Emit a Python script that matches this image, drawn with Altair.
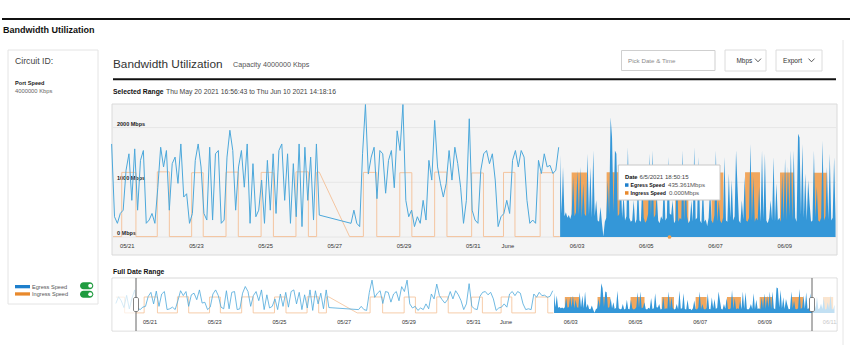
import altair as alt
import pandas as pd

FONT = "Liberation Sans"

# ---------------------------------------------------------------- data
SEL_START = "2021-05-20T16:56:43"
SEL_END = "2021-06-10T14:18:16"

# Egress speed (Mbps), part 1: two-hourly readings from 2021-05-20 02:00 (None = no data)
EGRESS_A_START = "2021-05-20T02:00:00"
egress_a = [
    700, 1200, 900, 400, 1300, 300, 1100, 1700, 370, 250, 430,
    490, 1220, 1520, 670, 1610, 490, 1400, 1580, 250, 310, 430, 250,
    900, 1640, 1280, 1580, 490, 1340, 1460, 980, 1700, 730, 790, 250,
    430, 1400, 1700, 1280, 430, 310, 1640, 310, 1520, 1580, 250, 310,
    1460, 1950, 1580, 490, 1280, 1580, 910, 1700, 250, 1340, 370, 490,
    1040, 250, 1400, 490, 1520, 430, 1580, 1700, 670, 1520, 250, 1340,
    370, 1700, 190, 1640, 670, 1460, 310, 1700, 400, None, None, None,
    None, None, None, None, None, None, None, 250, 490, 250, 190, 1520,
    2420, 1150, 1460, 1640, 700, 1580, 1520, 800, 1400, 1580, 900, 1940,
    1580, 2420, 670, 370, 490, 190, 370, 250, 670, 310, 1400, 1040,
    2130, 1280, 980, 730, 980, 1580, 1040, 1640, 1340, 910, 250, 670,
    2160, 490, 310, 250, 1220, 1520, 1580, 1340, 1520, 1040, 190, 370,
    430, 670, 430, 1400, 1580, 1280, 1580, 1460, 670, 250, 310, 250,
    1400, 1160, 1520, 1280, 1310, 1160, 1220, 1640,
]

# Egress speed (Mbps), part 2: hourly readings from 2021-06-02 15:00
EGRESS_B_START = "2021-06-02T15:00:00"
egress_b = [
    1500, 420, 1280, 380, 450, 350, 400, 330, 420, 1100,
    380, 450, 1220, 400, 1280, 350, 980, 420, 380, 1520,
    400, 1280, 350, 1580, 380, 670, 300, 280, 550, 250,
    10, 280, 350, 1040, 400, 2190, 1820, 450, 1580, 1520,
    380, 420, 1100, 350, 790, 300, 380, 1640, 350, 280,
    300, 670, 250, 320, 980, 300, 280, 980, 350, 260,
    300, 420, 1520, 380, 1580, 350, 400, 790, 300, 250,
    380, 320, 1100, 300, 350, 1460, 430, 400, 670, 250,
    300, 1220, 280, 350, 320, 1580, 300, 1160, 380, 250,
    300, 670, 280, 1640, 320, 350, 1460, 300, 250, 980,
    280, 320, 200, 350, 920, 300, 250, 400, 1580, 280,
    670, 300, 250, 350, 1460, 300, 280, 1160, 350, 1040,
    300, 380, 1580, 920, 300, 250, 670, 320, 1100, 300,
    280, 350, 1700, 300, 1100, 280, 350, 300, 920, 280,
    1580, 320, 1520, 300, 250, 350, 670, 300, 1460, 280,
    980, 300, 350, 280, 1160, 320, 1430, 300, 1280, 380,
    1580, 300, 1580, 350, 280, 1885, 1820, 400, 1700, 350,
    1160, 300, 1040, 610, 280, 300, 1580, 350, 920, 300,
    280, 350, 1760, 300, 380, 1280, 320, 1520, 300, 350,
    1460, 300, 250, 900, 300, 1200, 280, 350, 700, 300,
    1100, 250, 300, 800, 280, 1300, 300, 250, 600,
]

# Ingress speed: daily high periods (start, end, level in Mbps); low level otherwise
ingress_on = [
    "2021-05-20T02:00", "2021-05-20T23:00", "2021-05-21T23:40", "2021-05-22T23:30",
    "2021-05-23T23:20", "2021-05-24T23:40", "2021-05-25T23:50", "2021-05-26T14:10",
    "2021-05-27T22:35", "2021-05-28T23:50", "2021-05-30T00:00", "2021-05-31T01:40",
    "2021-05-31T23:45", "2021-06-02T01:10", "2021-06-02T23:00", "2021-06-03T23:15",
    "2021-06-04T23:45", "2021-06-05T22:50", "2021-06-07T00:00", "2021-06-07T23:15",
    "2021-06-08T23:30", "2021-06-09T22:50", "2021-06-10T22:30",
]
ingress_off = [
    "2021-05-20T08:30", "2021-05-21T08:50", "2021-05-22T08:00", "2021-05-23T07:30",
    "2021-05-24T07:50", "2021-05-25T08:10", "2021-05-26T08:25", "2021-05-26T16:00",
    "2021-05-28T07:50", "2021-05-29T08:10", "2021-05-30T08:30", "2021-05-31T09:50",
    "2021-06-01T07:40", "2021-06-02T10:20", "2021-06-03T09:35", "2021-06-04T08:40",
    "2021-06-05T10:05", "2021-06-06T07:55", "2021-06-07T08:10", "2021-06-08T09:35",
    "2021-06-09T08:50", "2021-06-10T07:55", "2021-06-11T06:00",
]
ingress_level = [1170, 1180, 1190, 1175, 1185, 1180, 1190, 1185, 1180, 1175, 1185, 1170,
                 1180, 1175, 1180, 1185, 1180, 1175, 1180, 1185, 1180, 1175, 1170]
INGRESS_LOW = 8
INGRESS_GAP = ("2021-05-26T16:00", "2021-05-27T13:00")
INGRESS_END = "2021-06-11T07:00"
PART_SPLIT = "2021-06-02T14:30"

HOVER_TIME = "2021-06-05T18:50:15"
HOVER_INGRESS = 0

main_tick_dates = ["2021-05-21", "2021-05-23", "2021-05-25", "2021-05-27", "2021-05-29",
                   "2021-05-31", "2021-06-01", "2021-06-03", "2021-06-05", "2021-06-07",
                   "2021-06-09"]
main_tick_labels = ["05/21", "05/23", "05/25", "05/27", "05/29", "05/31", "June",
                    "06/03", "06/05", "06/07", "06/09"]
over_tick_dates = main_tick_dates + ["2021-06-11"]
over_tick_labels = main_tick_labels + ["06/11"]
y_ticks = [0, 1000, 2000]
y_tick_labels = ["0 Mbps", "1000 Mbps", "2000 Mbps"]

BLUE_LINE = "#4ca8db"
BLUE_FILL = "#3497d8"
ORANGE_LINE = "#f4c096"
ORANGE_FILL = "#f0a050"

# ---------------------------------------------------------------- frames
ts = pd.Timestamp
ea = pd.DataFrame({"t": pd.date_range(EGRESS_A_START, periods=len(egress_a), freq="2h"),
                   "v": egress_a}).dropna()
eb = pd.DataFrame({"t": pd.date_range(EGRESS_B_START, periods=len(egress_b), freq="1h"),
                   "v": egress_b})

one_min = pd.Timedelta(minutes=1)
pts = []
for i, (on, off, lvl) in enumerate(zip(ingress_on, ingress_off, ingress_level)):
    if i > 0:
        pts.append((ts(on) - one_min, INGRESS_LOW))
    pts.append((ts(on), lvl))
    pts.append((ts(off), lvl))
    if off == INGRESS_GAP[0]:
        pts.append((ts(INGRESS_GAP[1]), INGRESS_LOW))
    else:
        pts.append((ts(off) + one_min, INGRESS_LOW))
pts.append((ts(INGRESS_END), INGRESS_LOW))
ing = pd.DataFrame(pts, columns=["t", "v"])
split = ts(PART_SPLIT)
ia = pd.concat([ing[ing.t <= split], pd.DataFrame({"t": [split], "v": [INGRESS_LOW]})])
ib = pd.concat([pd.DataFrame({"t": [split], "v": [INGRESS_LOW]}), ing[ing.t > split]])

s0, s1 = ts(SEL_START), ts(SEL_END)
lo = s0 - pd.Timedelta(hours=1)
ea_m = ea[(ea.t >= lo) & (ea.t <= s1)]
eb_m = eb[(eb.t >= lo) & (eb.t <= s1)]
ia_m = pd.concat([pd.DataFrame({"t": [s0], "v": [INGRESS_LOW]}), ia[(ia.t > s0) & (ia.t <= s1)]])
ib_m = ib[(ib.t >= lo) & (ib.t <= s1)]

main_ticks = pd.DataFrame({"t": pd.to_datetime(main_tick_dates), "lbl": main_tick_labels})
over_ticks = pd.DataFrame({"t": pd.to_datetime(over_tick_dates), "lbl": over_tick_labels})
yt = pd.DataFrame({"v": y_ticks, "lbl": y_tick_labels})
hover = pd.DataFrame({"t": [ts(HOVER_TIME)], "v": [HOVER_INGRESS]})
one = pd.DataFrame({"k": [0]})


def dt(s):
    d = ts(s)
    return alt.DateTime(year=d.year, month=d.month, date=d.day,
                        hours=d.hour, minutes=d.minute, seconds=d.second)


XM = alt.Scale(domain=[dt(SEL_START), dt(SEL_END)], range=[113, 836], nice=False)
YM = alt.Scale(domain=[0, 2430], range=[237, 104], nice=False, zero=False)
XO = alt.Scale(domain=[dt(SEL_START), dt(SEL_END)], range=[136, 812], nice=False)
YO = alt.Scale(domain=[0, 2430], range=[313, 280], nice=False, zero=False)

layers = []


def box(x1, y1, x2, y2, fill="white", stroke=None, sw=1.0, r=0, op=1.0):
    kw = dict(fill=fill, opacity=op)
    if stroke:
        kw.update(stroke=stroke, strokeWidth=sw)
    if r:
        kw["cornerRadius"] = r
    layers.append(alt.Chart(one).mark_rect(**kw).encode(
        x=alt.value(x1), x2=alt.value(x2), y=alt.value(y1), y2=alt.value(y2)))


def txt(x, y, s, size=7.0, color="#222", weight="normal", align="left"):
    layers.append(alt.Chart(one).mark_text(
        text=s, fontSize=size, color=color, fontWeight=weight, align=align,
        baseline="middle", font=FONT).encode(x=alt.value(x), y=alt.value(y)))


def seg(x1, y1, x2, y2, color="#111", sw=1.0):
    layers.append(alt.Chart(one).mark_rule(color=color, strokeWidth=sw).encode(
        x=alt.value(x1), x2=alt.value(x2), y=alt.value(y1), y2=alt.value(y2)))


def enc(xs, ys):
    return dict(x=alt.X("t:T", scale=xs, axis=None), y=alt.Y("v:Q", scale=ys, axis=None))


# ---------------------------------------------------------------- page header
seg(2, 19, 850, 19, "#111", 2)
txt(3, 29.5, "Bandwidth Utilization", 9, "#111", "bold")

# left panel
box(8, 50, 98, 304, "white", "#e4e4e4")
txt(15, 60.5, "Circuit ID:", 8.7, "#444")
txt(15, 83.3, "Port Speed", 5.6, "#222", "bold")
txt(15, 90.8, "4000000 Kbps", 5.8, "#666")
box(15, 285, 30, 288.3, "#1e7fcc")
box(15, 292.3, 30, 295.6, "#e8892c")
txt(32, 286.6, "Egress Speed", 5.6, "#555")
txt(32, 294, "Ingress Speed", 5.6, "#555")
box(80, 282.3, 93.3, 289.3, "#1f9b3f", r=3.5)
box(80, 290.7, 93.3, 297.7, "#1f9b3f", r=3.5)
for yk in (285.8, 294.2):
    layers.append(alt.Chart(one).mark_circle(color="white", opacity=1, size=16).encode(
        x=alt.value(90.2), y=alt.value(yk)))

# main header
txt(113, 63.5, "Bandwidth Utilization", 11.8, "#333")
txt(233, 65, "Capacity 4000000 Kbps", 7.2, "#555")
box(621.5, 50.5, 715, 70.5, "white", "#cfcfcf")
txt(628, 60.8, "Pick Date & Time", 6.2, "#8a8a8a")
box(725, 50, 766, 71, "white", "#dcdcdc")
txt(736.5, 60.8, "Mbps", 6.4, "#333")
seg(755, 58.6, 758, 61.8, "#333", 0.8)
seg(758, 61.8, 761, 58.6, "#333", 0.8)
box(776, 50, 822, 71, "white", "#dcdcdc")
txt(783, 60.8, "Export", 6.6, "#333")
seg(808.5, 58.6, 811.5, 61.8, "#333", 0.8)
seg(811.5, 61.8, 814.5, 58.6, "#333", 0.8)
seg(113, 79.3, 836, 79.3, "#111", 2)
txt(113, 91.7, "Selected Range", 6.8, "#111", "bold")
txt(166, 91.7, "Thu May 20 2021 16:56:43 to Thu Jun 10 2021 14:18:16", 6.8, "#444")

# ---------------------------------------------------------------- main chart
box(112, 104, 837, 255, "#f4f4f4", "#dadada")
layers.append(alt.Chart(yt).mark_rule(color="#e2e2e2", strokeWidth=0.8).encode(
    y=alt.Y("v:Q", scale=YM, axis=None), x=alt.value(113), x2=alt.value(836)))
layers.append(alt.Chart(yt).mark_text(
    align="left", baseline="middle", dy=-4, fontSize=5.5, fontWeight="bold",
    color="#222", font=FONT).encode(
    y=alt.Y("v:Q", scale=YM, axis=None), x=alt.value(117), text="lbl:N"))
layers.append(alt.Chart(main_ticks).mark_text(
    align="center", baseline="middle", dx=4, fontSize=5.8, color="#333", font=FONT).encode(
    x=alt.X("t:T", scale=XM, axis=None), y=alt.value(245.6), text="lbl:N"))

layers.append(alt.Chart(ia_m).mark_line(color=ORANGE_LINE, strokeWidth=0.9).encode(**enc(XM, YM)))
layers.append(alt.Chart(ea_m).mark_line(color=BLUE_LINE, strokeWidth=1).encode(**enc(XM, YM)))
layers.append(alt.Chart(ib_m).mark_area(color=ORANGE_FILL, opacity=0.92).encode(**enc(XM, YM)))
layers.append(alt.Chart(eb_m).mark_area(color=BLUE_FILL, opacity=1).encode(**enc(XM, YM)))
layers.append(alt.Chart(hover).mark_circle(color=ORANGE_FILL, opacity=1, size=14).encode(
    **enc(XM, YM)))

# tooltip
box(618.3, 165, 720, 200, "white", "#c8c8c8")
txt(625, 176.7, "Date", 5.8, "#111", "bold")
txt(639.5, 176.7, "6/5/2021 18:50:15", 6.1, "#444")
box(625, 183.3, 628.5, 186.8, "#1e7fcc")
txt(630.5, 185.1, "Egress Speed", 5.2, "#111", "bold")
txt(668, 185.1, "435.361Mbps", 6.1, "#555")
box(625, 191.2, 628.5, 194.7, "#e8892c")
txt(630.5, 193, "Ingress Speed", 5.2, "#111", "bold")
txt(669, 193, "0.000Mbps", 6.1, "#555")

# ---------------------------------------------------------------- overview
txt(113, 271.7, "Full Date Range", 6.8, "#111", "bold")
box(112, 278, 837, 331, "white", "#d8d8d8")
layers.append(alt.Chart(over_ticks).mark_text(
    align="center", baseline="middle", dx=4.5, fontSize=5.6, color="#333", font=FONT).encode(
    x=alt.X("t:T", scale=XO, axis=None), y=alt.value(322), text="lbl:N"))
layers.append(alt.Chart(ia).mark_line(color=ORANGE_LINE, strokeWidth=0.8).encode(**enc(XO, YO)))
layers.append(alt.Chart(ea).mark_line(color=BLUE_LINE, strokeWidth=0.8).encode(**enc(XO, YO)))
layers.append(alt.Chart(ib).mark_area(color=ORANGE_FILL, opacity=0.92).encode(**enc(XO, YO)))
layers.append(alt.Chart(eb).mark_area(color=BLUE_FILL, opacity=1).encode(**enc(XO, YO)))
box(112.5, 278.5, 136, 330.5, "white", op=0.7)
box(812, 278.5, 836.5, 330.5, "white", op=0.7)
seg(136, 278, 136, 331, "#666", 1)
seg(812, 278, 812, 331, "#666", 1)
box(133.5, 297.5, 138.5, 311.5, "white", "#666", 0.8, r=1.5)
box(809.5, 297.5, 814.5, 311.5, "white", "#666", 0.8, r=1.5)

# container edge
seg(843, 40, 843, 345, "#e6e6e6", 1)

chart = alt.layer(*layers).resolve_scale(
    x="independent", y="independent"
).properties(
    width=850, height=357, padding=0, autosize=alt.AutoSizeParams(type="none")
).configure_view(stroke=None)

chart.save("out.html", embed_options={"renderer": "svg", "actions": False})
